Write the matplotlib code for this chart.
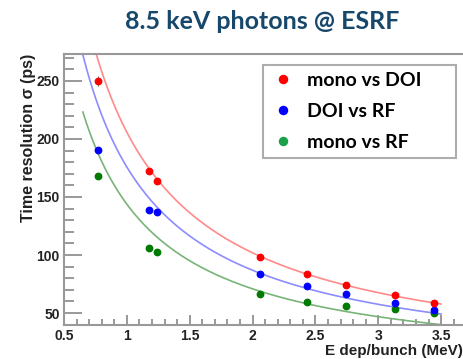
import matplotlib
matplotlib.use("Agg")
import matplotlib.pyplot as plt
from matplotlib.lines import Line2D
import numpy as np

# measured points (E dep per bunch in MeV, sigma in ps)
energy = [0.77, 1.18, 1.24, 2.06, 2.43, 2.74, 3.13, 3.44]
mono_doi = [250, 172.6, 164, 98.4, 83.5, 74.2, 65.5, 58.9]
doi_rf = [190.4, 138.5, 136.8, 83.3, 73.5, 66.0, 58.8, 53.0]
mono_rf = [167.7, 106.4, 103, 66.7, 59.6, 56.2, 53.9, 50.2]
mono_doi_err = [4, 2, 2, 1.5, 1.5, 1.5, 1.5, 1.5]

# fit parameters sigma = a / E^b
fit_mono_doi = (205.8, 1.014)
fit_doi_rf = (175.8, 1.017)
fit_mono_rf = (143.8, 1.021)
fit_range = (0.65, 3.5)

labels = ["mono vs DOI", "DOI vs RF", "mono vs RF"]
x_ticks = [0.5, 1, 1.5, 2, 2.5, 3, 3.5]
y_ticks = [50, 100, 150, 200, 250]

fig = plt.figure(figsize=(4.64, 3.59), dpi=100)
ax = fig.add_axes([64 / 464, 1 - 325 / 359, (472.5 - 64) / 464, (325 - 54) / 359])

xs = np.linspace(fit_range[0], fit_range[1], 200)
curve_cols = ["#ff8a8a", "#8c8cff", "#78b478"]
point_cols = ["#ff0000", "#0000ff", "#007a00"]
series = [mono_doi, doi_rf, mono_rf]
fits = [fit_mono_doi, fit_doi_rf, fit_mono_rf]

for vals, (a, b), cc, pc in zip(series, fits, curve_cols, point_cols):
    ax.plot(xs, a / xs ** b, color=cc, lw=1.2, zorder=2)
for vals, pc in zip(series[::-1], point_cols[::-1]):
    ax.plot(energy, vals, "o", color=pc, ms=4.6, zorder=3)
ax.errorbar(energy, mono_doi, yerr=mono_doi_err, fmt="none", ecolor="#777777", lw=0.8, zorder=2.5)

ax.set_xlim(0.5, 3.75)
ax.set_ylim(39.7, 273.2)
ax.set_xticks(x_ticks)
ax.set_xticklabels(["0.5", "1", "1.5", "2", "2.5", "3", "3.5"])
ax.set_yticks(y_ticks)
ax.set_xticks(np.arange(0.5, 3.75, 0.1), minor=True)
ax.set_yticks(np.arange(40, 273, 10), minor=True)
ax.tick_params(which="major", axis="y", direction="in", length=13, width=1.2, color="#888888")
ax.tick_params(which="minor", axis="y", direction="in", length=7, width=1.2, color="#888888")
ax.tick_params(which="major", axis="x", direction="in", length=7, width=1.2, color="#888888")
ax.tick_params(which="minor", axis="x", direction="in", length=4, width=1.2, color="#888888")
ax.tick_params(axis="both", labelsize=10, pad=3)
for lab in ax.get_xticklabels() + ax.get_yticklabels():
    lab.set_fontweight("bold")
    lab.set_fontfamily("Liberation Sans")
    lab.set_color("#222222")
for s in ax.spines.values():
    s.set_color("#999999")
    s.set_linewidth(1.5)

fig.text(29 / 464, 1 - 138 / 359, "Time resolution \u03c3 (ps)", rotation=90,
         ha="center", va="center", fontsize=11.5, fontweight="bold",
         family="Liberation Sans", color="#222222")
fig.text(463 / 464, 1 - 351 / 359, "E dep/bunch (MeV)", ha="right", va="center",
         fontsize=11, fontweight="bold", family="Liberation Sans", color="#222222")

fig.text(262.5 / 464, 1 - 21.7 / 359, "8.5 keV photons @ ESRF", ha="center", va="center",
         fontsize=18, fontweight="bold", family="Lato", color="#17486b")

handles = [Line2D([], [], ls="none", marker="o", ms=5.8, color=c)
           for c in ["#ff0000", "#0000ff", "#1aa048"]]
leg = ax.legend(handles, labels, loc="upper left",
                bbox_to_anchor=(263 / 464, 1 - 65 / 359 - 0.01, (456 - 263) / 464, 0.01),
                bbox_transform=fig.transFigure, mode="expand", fancybox=False,
                borderaxespad=0,
                prop={"family": "Lato", "weight": "bold", "size": 14},
                handletextpad=0.5, labelspacing=0.72, borderpad=0.35, handlelength=1.4)
leg.get_frame().set_edgecolor("#999999")
leg.get_frame().set_linewidth(1.5)

fig.savefig("out.png", dpi=100)
